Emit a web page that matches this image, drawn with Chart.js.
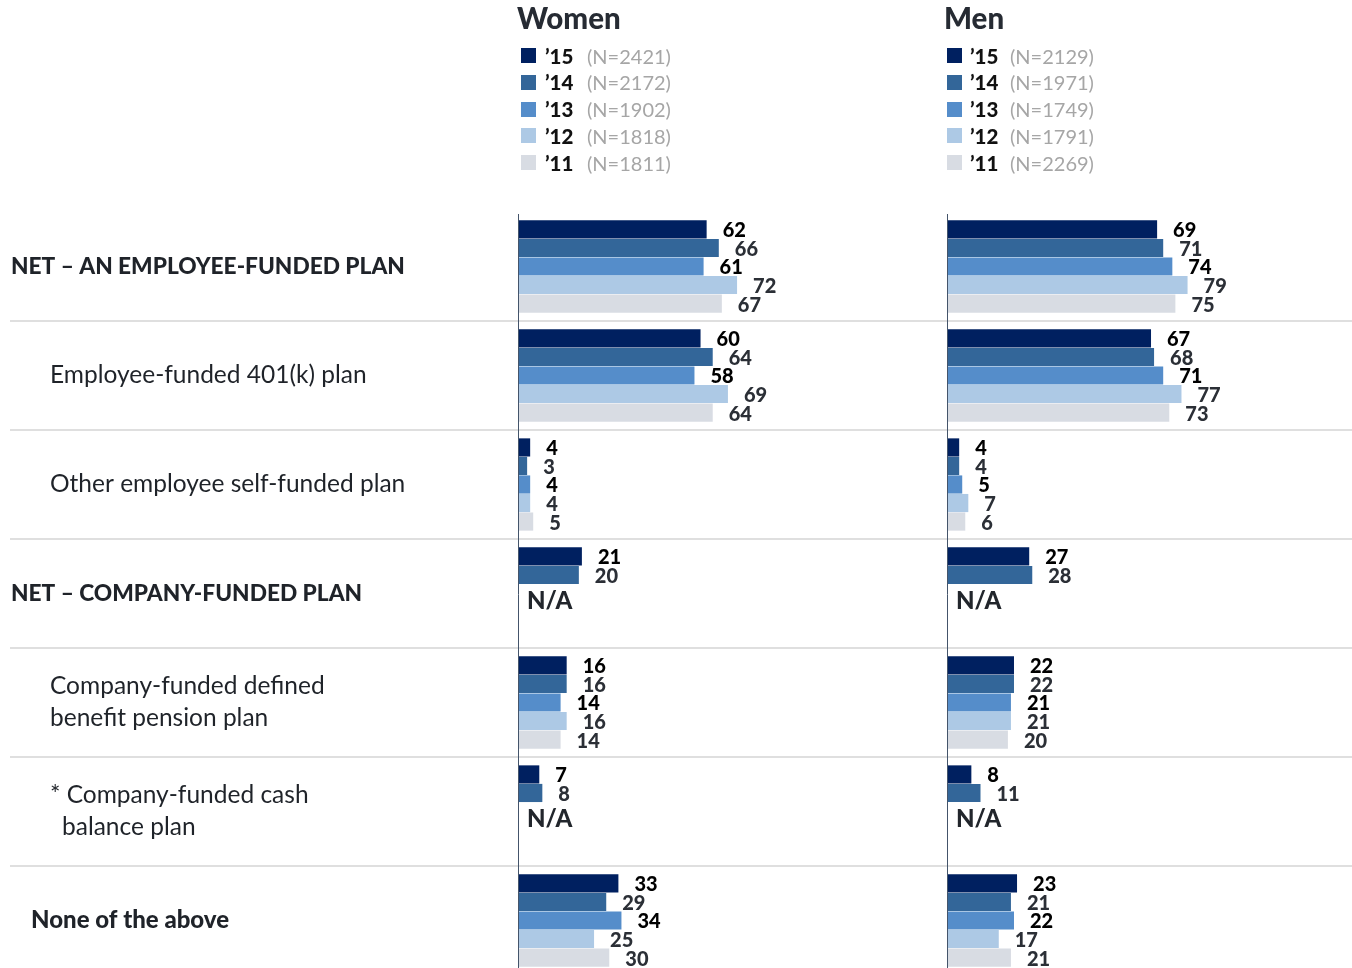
<!DOCTYPE html>
<html>
<head>
<meta charset="utf-8">
<script src="https://cdn.jsdelivr.net/npm/chart.js@4.4.1/dist/chart.umd.min.js"></script>
<style>
  html, body { margin: 0; padding: 0; background: #fff; overflow: hidden; }
  #wrap { position: relative; width: 1352px; height: 968px; }
  #chart { position: absolute; left: 0; top: 0; }
  .title { position: absolute; top: 0; font: 900 29.5px Lato; color: #262b33; line-height: 36px; }
  .leg { position: absolute; height: 20px; line-height: 20px; white-space: nowrap; }
  .leg i { position: absolute; left: 0; top: 2px; width: 15px; height: 15px; }
  .leg b { position: absolute; top: -2.5px; font: 900 20.5px Lato; color: #111; }
  .leg span { position: absolute; top: -2.5px; font: 20px Lato; color: #a6a6a6; }
</style>
</head>
<body>
<div id="wrap">
  <canvas id="chart" width="1352" height="975" style="width:1352px;height:975px"></canvas>
  <div id="legend"></div>
</div>
<script>
// categories (row labels, one entry per line)
const categories = [
  ['NET – AN EMPLOYEE-FUNDED PLAN'],
  ['Employee-funded 401(k) plan'],
  ['Other employee self-funded plan'],
  ['NET – COMPANY-FUNDED PLAN'],
  ['Company-funded defined', 'benefit pension plan'],
  ['* Company-funded cash', 'balance plan'],
  ['None of the above']
];
const years = ['’15', '’14', '’13', '’12', '’11'];
const womenN = ['(N=2421)', '(N=2172)', '(N=1902)', '(N=1818)', '(N=1811)'];
const menN = ['(N=2129)', '(N=1971)', '(N=1749)', '(N=1791)', '(N=2269)'];

// women, by year
const women15 = [62, 60, 4, 21, 16, 7, 33];
const women14 = [66, 64, 3, 20, 16, 8, 29];
const women13 = [61, 58, 4, null, 14, null, 34];
const women12 = [72, 69, 4, null, 16, null, 25];
const women11 = [67, 64, 5, null, 14, null, 30];
// men, by year
const men15 = [69, 67, 4, 27, 22, 8, 23];
const men14 = [71, 68, 4, 28, 22, 11, 21];
const men13 = [74, 71, 5, null, 21, null, 22];
const men12 = [79, 77, 7, null, 21, null, 17];
const men11 = [75, 73, 6, null, 20, null, 21];

const colors = ['#002060', '#336699', '#558dca', '#adc9e5', '#d8dce3'];
const labelColors = ['#000', '#2b2f36', '#000', '#2b2f36', '#2b2f36'];

// row label style: font and x for each line
const rowFont = ['900 22.7px Lato', '24.5px Lato', '24.5px Lato', '900 22.7px Lato', '24.5px Lato', '24.5px Lato', '900 24px Lato'];
const rowX = [[11], [50], [50], [11], [50, 50], [50, 62], [31]];

const womenData = [women15, women14, women13, women12, women11];
const menData = [men15, men14, men13, men12, men11];

// legend (html)
const legend = document.getElementById('legend');
function addPanelLegend(title, left, swatchX, yearX, nX, ns) {
  const t = document.createElement('div');
  t.className = 'title';
  t.style.left = left + 'px';
  t.textContent = title;
  legend.appendChild(t);
  years.forEach((y, i) => {
    const row = document.createElement('div');
    row.className = 'leg';
    row.style.left = swatchX + 'px';
    row.style.top = (46 + i * 26.8) + 'px';
    row.innerHTML = '<i style="background:' + colors[i] + '"></i><b style="left:' + yearX + 'px">' + y +
      '</b><span style="left:' + nX + 'px">' + ns[i] + '</span>';
    legend.appendChild(row);
  });
}
addPanelLegend('Women', 517, 521, 24, 66, womenN);
addPanelLegend('Men', 944, 947, 23, 63, menN);

const datasets = [];
womenData.forEach((d, i) => datasets.push({
  label: 'Women ' + years[i], data: d, backgroundColor: colors[i],
  xAxisID: 'xW', stack: 's' + i
}));
menData.forEach((d, i) => datasets.push({
  label: 'Men ' + years[i], data: d, backgroundColor: colors[i],
  xAxisID: 'xM', stack: 's' + i
}));

const decor = {
  id: 'decor',
  beforeDatasetsDraw(chart) {
    const { ctx, scales: { y } } = chart;
    ctx.save();
    ctx.strokeStyle = '#dfdfdf';
    ctx.lineWidth = 2;
    for (let i = 0; i < categories.length - 1; i++) {
      const yy = Math.round((y.getPixelForValue(i) + y.getPixelForValue(i + 1)) / 2);
      ctx.beginPath();
      ctx.moveTo(10, yy);
      ctx.lineTo(chart.width, yy);
      ctx.stroke();
    }
    ctx.restore();
  },
  afterDatasetsDraw(chart) {
    const { ctx, chartArea, scales: { y, xW, xM } } = chart;
    ctx.save();
    // axis lines
    ctx.strokeStyle = '#44546a';
    ctx.lineWidth = 1;
    [xW, xM].forEach(s => {
      const x = Math.round(s.getPixelForValue(0)) + 0.5;
      ctx.beginPath();
      ctx.moveTo(x, chartArea.top + 2);
      ctx.lineTo(x, chartArea.bottom);
      ctx.stroke();
    });
    // row labels
    ctx.textBaseline = 'middle';
    ctx.textAlign = 'left';
    ctx.fillStyle = '#1f2329';
    categories.forEach((lines, i) => {
      const cy = y.getPixelForValue(i);
      ctx.font = rowFont[i];
      const lh = 32;
      lines.forEach((ln, k) => {
        ctx.fillText(ln, rowX[i][k], cy + (k - (lines.length - 1) / 2) * lh);
      });
    });
    // value labels
    ctx.font = '900 20px Lato';
    chart.data.datasets.forEach((ds, di) => {
      const meta = chart.getDatasetMeta(di);
      const yi = di % 5;
      meta.data.forEach((el, j) => {
        const v = ds.data[j];
        if (v == null) return;
        ctx.fillStyle = labelColors[yi];
        ctx.fillText(String(v), el.x + 16, el.y + 1.5);
      });
    });
    // N/A where later years are missing
    ctx.font = '900 24px Lato';
    ctx.fillStyle = '#22262c';
    [[xW, women13], [xM, men13]].forEach(([s, d]) => {
      d.forEach((v, j) => {
        if (v == null) ctx.fillText('N/A', s.getPixelForValue(0) + 9, y.getPixelForValue(j) + 8);
      });
    });
    ctx.restore();
  }
};

new Chart(document.getElementById('chart'), {
  type: 'bar',
  data: { labels: categories.map(c => c.join(' ')), datasets: datasets },
  options: {
    indexAxis: 'y',
    responsive: false,
    animation: false,
    layout: { padding: { left: 518, top: 212, right: 0, bottom: 0 } },
    categoryPercentage: 0.85,
    barPercentage: 0.98,
    plugins: { legend: { display: false }, tooltip: { enabled: false } },
    scales: {
      xW: { type: 'linear', position: 'bottom', stack: 'panels', stackWeight: 429, min: 0, max: 141, stacked: false, display: false },
      xM: { type: 'linear', position: 'bottom', stack: 'panels', stackWeight: 405, min: 0, max: 133, stacked: false, display: false },
      y: { type: 'category', display: false }
    }
  },
  plugins: [decor]
});
</script>
</body>
</html>
